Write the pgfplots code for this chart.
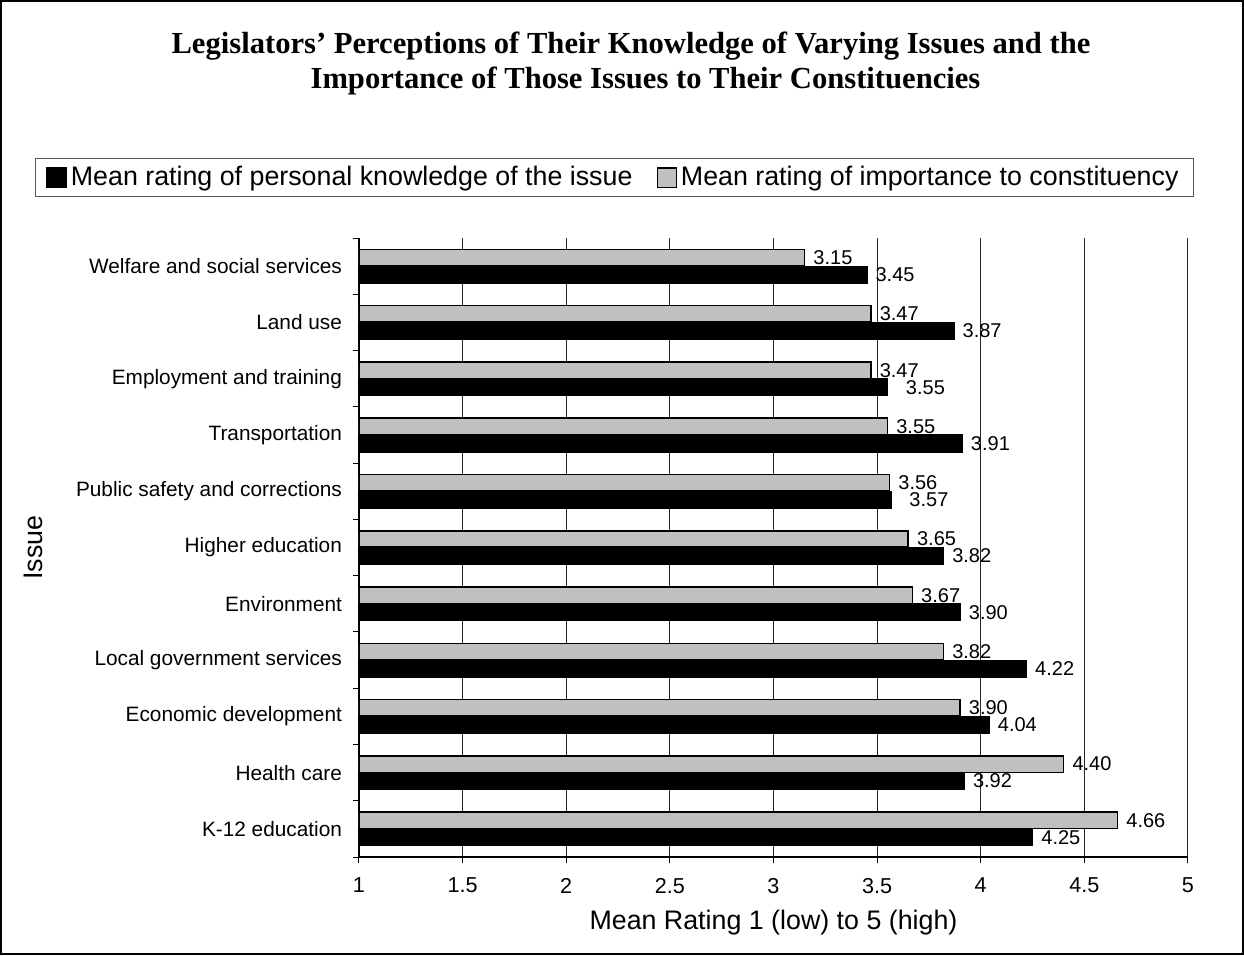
\documentclass[border=0pt]{standalone}
\usepackage{fontspec}
\setmainfont{Liberation Sans}
\newfontfamily\titlefont{Liberation Serif}
\usepackage{pgfplots}
\usepackage{pgfplotstable}
\pgfplotsset{compat=1.18}
\definecolor{barsilver}{RGB}{192,192,192}

% Mean ratings, listed from the bottom category (K-12) to the top one (Welfare).
% dx nudges a value label to the right where two labels would collide.
\pgfplotstableread{
pos value dx
0  4.25 0.7
1  3.92 0.7
2  4.04 0.7
3  4.22 0.7
4  3.90 0.7
5  3.82 0.7
6  3.57 5.2
7  3.91 0.7
8  3.55 5.5
9  3.87 0.7
10 3.45 0.7
}\knowledge

\pgfplotstableread{
pos value dx
0  4.66 0.7
1  4.40 0.7
2  3.90 0.7
3  3.82 0.7
4  3.67 0.7
5  3.65 0.7
6  3.56 0.7
7  3.55 0.7
8  3.47 0.7
9  3.47 0.7
10 3.15 0.7
}\importance

\begin{document}
\begin{tikzpicture}[x=0.5pt,y=-0.5pt]
\useasboundingbox (0,0) rectangle (1244,955);
\draw[line width=1.1pt] (1,1) rectangle (1243,954);
\node[font=\titlefont\bfseries\fontsize{15.3}{18}\selectfont, anchor=base, inner sep=0pt]
  at (631,53) {Legislators’ Perceptions of Their Knowledge of Varying Issues and the};
\node[font=\titlefont\bfseries\fontsize{15.3}{18}\selectfont, anchor=base, inner sep=0pt]
  at (645.5,88) {Importance of Those Issues to Their Constituencies};
\begin{axis}[
  at={(179.5pt,-428.5pt)}, anchor=south west,
  scale only axis, width=414.5pt, height=309.5pt,
  xmin=1, xmax=5, ymin=-0.5, ymax=10.5,
  axis x line*=bottom, axis y line*=left,
  axis line style={-, black, line width=0.6pt},
  xtick={1,1.5,...,5},
  xmajorgrids, grid style={black!85, line width=0.5pt},
  ytick={0,...,10},
  yticklabels={K-12 education, Health care, Economic development,
    Local government services, Environment, Higher education,
    Public safety and corrections, Transportation, Employment and training,
    Land use, Welfare and social services},
  major tick length=0pt, minor tick length=3pt,
  minor xtick={1,1.5,...,5}, minor ytick={-0.5,0.5,...,10.5},
  tick align=outside,
  minor tick style={black, line width=0.5pt},
  /pgf/number format/assume math mode=true,
  yticklabel style={font=\fontsize{10.4}{12}\selectfont, xshift=-5pt},
  xticklabel style={font=\fontsize{10.8}{12}\selectfont, yshift=-7pt},
  xlabel={Mean Rating 1 (low) to 5 (high)},
  xlabel style={at={(axis description cs:0.5,-0.1179)}, anchor=base,
    font=\fontsize{13.4}{16}\selectfont},
  ylabel={Issue},
  ylabel style={at={(axis description cs:-0.3812,0.5)}, anchor=base,
    rotate=0, font=\fontsize{13.4}{16}\selectfont},
  legend columns=2,
  legend style={at={(axis description cs:0.3082,1.0977)}, anchor=center,
    draw=black!65, line width=0.6pt, font=\fontsize{13.4}{16}\selectfont,
    inner xsep=5.5pt, inner ysep=2pt,
    /tikz/every even column/.append style={column sep=10pt}},
]
\addplot[xbar, bar width=8.25pt, bar shift=-4.25pt, fill=black, draw=black,
  line width=0.8pt,
  point meta=x,
  visualization depends on={\thisrow{dx} \as \dx},
  nodes near coords={\pgfmathprintnumber[fixed,zerofill,precision=2]{\pgfplotspointmeta}},
  nodes near coords style={anchor=west, xshift=\dx pt, yshift=-4.25pt, text=black,
    font=\fontsize{10}{12}\selectfont},
  legend image code/.code={\draw[fill=black, draw=black, line width=0.6pt]
    (0pt,-4.8pt) rectangle (9.6pt,4.8pt);},
] table[x=value, y=pos] {\knowledge};
\addlegendentry{Mean rating of personal knowledge of the issue}
\addplot[xbar, bar width=8.25pt, bar shift=4.25pt, fill=barsilver, draw=black,
  line width=0.8pt,
  point meta=x,
  visualization depends on={\thisrow{dx} \as \dx},
  nodes near coords={\pgfmathprintnumber[fixed,zerofill,precision=2]{\pgfplotspointmeta}},
  nodes near coords style={anchor=west, xshift=\dx pt, yshift=4.25pt, text=black,
    font=\fontsize{10}{12}\selectfont},
  legend image code/.code={\draw[fill=barsilver, draw=black, line width=0.6pt]
    (0pt,-4.8pt) rectangle (9.6pt,4.8pt);},
] table[x=value, y=pos] {\importance};
\addlegendentry{Mean rating of importance to constituency}
\end{axis}
\end{tikzpicture}
\end{document}
